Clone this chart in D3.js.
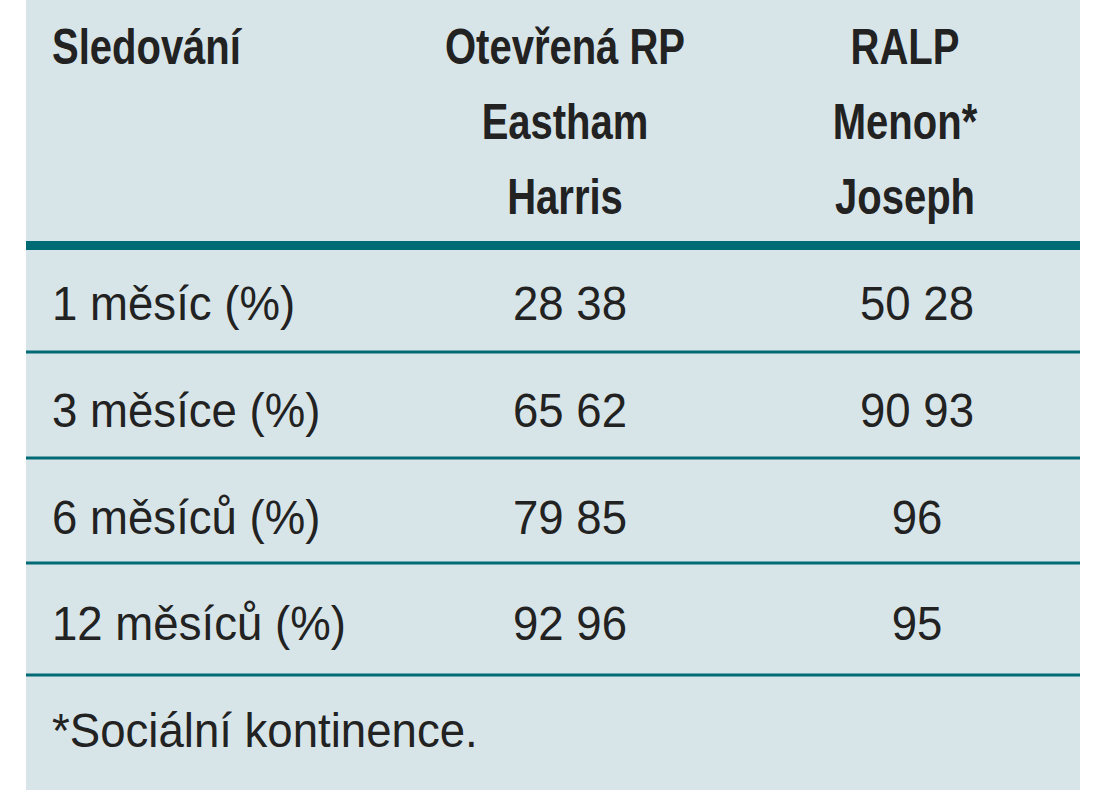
<!DOCTYPE html><html><head><meta charset="utf-8"><script src="https://cdn.jsdelivr.net/npm/d3@7"></script>
<style>body{margin:0;background:#fff}</style></head><body><svg id="c" width="1096" height="800"></svg><script>
const headers=[["Sledování"],["Otevřená RP","Eastham","Harris"],["RALP","Menon*","Joseph"]];
const rows=["1 měsíc (%)","3 měsíce (%)","6 měsíců (%)","12 měsíců (%)"];
const openRP=["28 38","65 62","79 85","92 96"];
const ralp=["50 28","90 93","96","95"];
const footnote="*Sociální kontinence.";
const svg=d3.select("#c");
const teal="#006b74";
svg.append("rect").attr("x",26).attr("y",0).attr("width",1054).attr("height",790).attr("fill","#d8e5e8");
const colX=[52,565,905];
const hf="'Liberation Sans',Arial,sans-serif";
headers.forEach((h,i)=>h.forEach((t,j)=>svg.append("text")
 .attr("transform",`translate(${colX[i]},${64+j*75}) scale(0.8,1)`)
 .attr("text-anchor",i?"middle":"start").attr("font-family",hf).attr("font-weight","bold").attr("font-size",50).attr("fill","#222").text(t)));
svg.append("rect").attr("x",26).attr("y",241).attr("width",1054).attr("height",9).attr("fill",teal);
[352,458,563,675].forEach(v=>svg.append("rect").attr("x",26).attr("y",v-1.5).attr("width",1054).attr("height",3).attr("fill",teal));
const bf="'Liberation Sans',Arial,sans-serif";
const base=[320,427,534,640];
function txt(x,y,t,anchor){svg.append("text").attr("transform",`translate(${x},${y}) scale(0.95,1)`)
 .attr("text-anchor",anchor).attr("font-family",bf).attr("font-size",48).attr("fill","#222").text(t);}
rows.forEach((r,i)=>{
 txt(52,base[i],r,"start");
 txt(570,base[i],openRP[i],"middle");
 txt(917,base[i],ralp[i],"middle");
});
txt(52,747,footnote,"start");
</script></body></html>
